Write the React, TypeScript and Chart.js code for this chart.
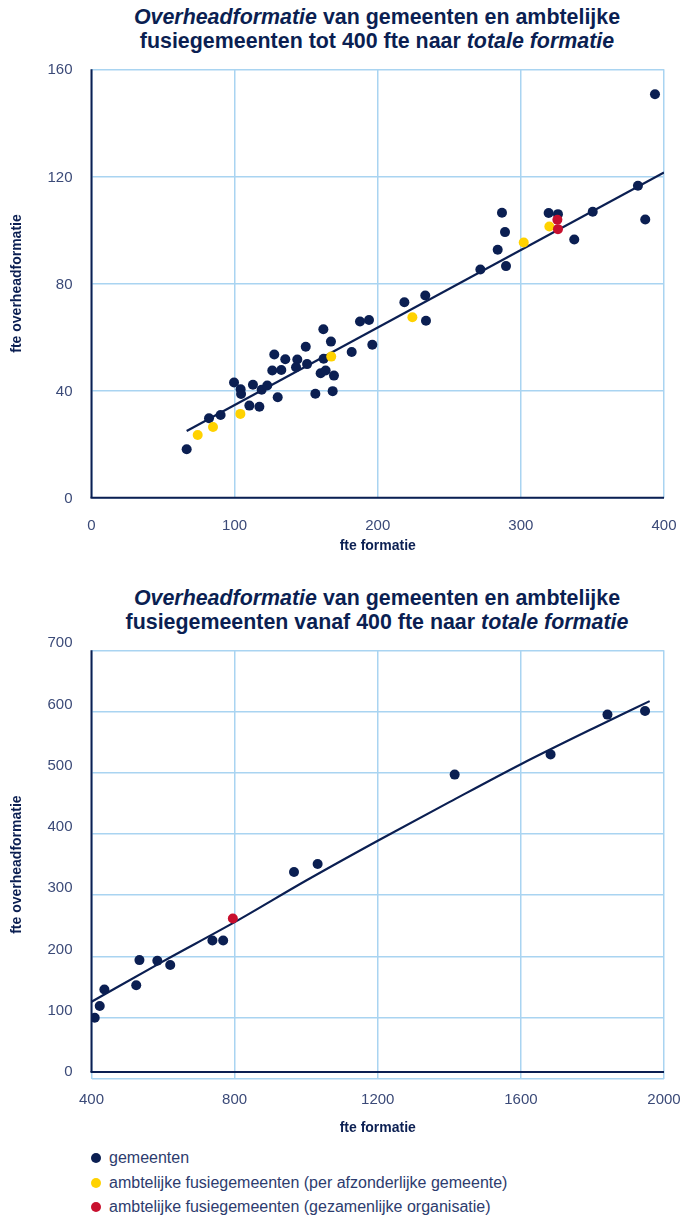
import React, { useEffect, useRef } from "react";
import { Chart, registerables } from "chart.js";

Chart.register(...registerables);

// ---------- Data: chart 1 (tot 400 fte) ----------
const gemeenten1X = [66.5, 82.1, 90.2, 99.6, 104.2, 104.5, 110.3, 117.3, 112.8, 118.9, 122.8, 130.1, 127.7, 126.3, 132.6, 135.4, 143.8, 142.9, 149.7, 150.6, 156.4, 162, 167.3, 162.2, 160.1, 163.6, 169.4, 168.5, 181.8, 187.6, 193.9, 196.2, 218.6, 233.2, 233.7, 271.7, 283.8, 286.8, 288.9, 289.6, 319.4, 325.9, 337.3, 350.2, 381.8, 386.9, 393.7];
const gemeenten1Y = [18.1, 29.7, 30.9, 43.0, 40.5, 38.7, 34.4, 34.0, 42.2, 40.3, 41.9, 37.5, 53.5, 47.5, 47.7, 51.7, 51.6, 48.7, 56.4, 49.9, 38.8, 62.9, 58.3, 51.9, 46.5, 47.5, 45.6, 39.8, 54.4, 65.8, 66.4, 57.1, 73.0, 75.5, 66.1, 85.2, 92.6, 106.4, 99.2, 86.5, 106.3, 105.9, 96.4, 106.8, 116.5, 103.9, 150.7];
const fusieApart1X = [74.2, 84.9, 104, 167.5, 224.2, 302, 319.9];
const fusieApart1Y = [23.4, 26.4, 31.3, 52.7, 67.4, 95.3, 101.3];
const fusieSamen1X = [325.5, 325.9];
const fusieSamen1Y = [103.8, 100.3];
const trend1X = [66.5, 400];
const trend1Y = [24.9, 121.5];
const xTicks1 = [0, 100, 200, 300, 400];
const yTicks1 = [0, 40, 80, 120, 160];

// ---------- Data: chart 2 (vanaf 400 fte) ----------
const gemeenten2X = [409, 423, 436, 525, 534, 584, 620, 738, 768, 966, 1032, 1415, 1683, 1842, 1947];
const gemeenten2Y = [100, 119, 146, 153, 194, 193, 186, 226, 226, 338, 351, 497, 530, 595, 601];
const fusieSamen2X = [795];
const fusieSamen2Y = [262];
const trend2X = [400, 600, 800, 1000, 1200, 1400, 1600, 1800, 1960];
const trend2Y = [126, 192, 256, 324, 389, 452, 514, 572, 617];
const xTicks2 = [400, 800, 1200, 1600, 2000];
const yTicks2 = [0, 100, 200, 300, 400, 500, 600, 700];

const legendLabels = [
  "gemeenten",
  "ambtelijke fusiegemeenten (per afzonderlijke gemeente)",
  "ambtelijke fusiegemeenten (gezamenlijke organisatie)",
];

const NAVY = "#0b1f52";
const YELLOW = "#ffd200";
const RED = "#c8102e";
const GRID = "#a9d4f1";
const TICK = "#3b4a78";
const FONT = "'Liberation Sans', Arial, sans-serif";

const pts = (xs: number[], ys: number[]) => xs.map((x, i) => ({ x, y: ys[i] }));

type Cfg = {
  series: { xs: number[]; ys: number[]; color: string; order: number }[];
  trendX: number[];
  trendY: number[];
  xTicks: number[];
  yTicks: number[];
  padTop: number;
  xHeight: number;
  xTickPad: number;
  xTitlePad: number;
  yLabelOffset: number;
  axisLineOffset: number;
  curved: boolean;
};

function makeChart(canvas: HTMLCanvasElement, c: Cfg) {
  const xStep = c.xTicks[1] - c.xTicks[0];
  const yStep = c.yTicks[1] - c.yTicks[0];
  const axisLine = {
    id: "axisLine",
    afterDatasetsDraw(chart: any) {
      const { ctx, chartArea, scales } = chart;
      const y0 = scales.y.getPixelForValue(c.yTicks[0]) - c.axisLineOffset;
      ctx.save();
      ctx.strokeStyle = NAVY;
      ctx.lineWidth = 2;
      ctx.beginPath();
      ctx.moveTo(chartArea.left - 1, y0);
      ctx.lineTo(chartArea.right, y0);
      ctx.stroke();
      ctx.beginPath();
      ctx.moveTo(chartArea.left, chartArea.top);
      ctx.lineTo(chartArea.left, y0);
      ctx.stroke();
      ctx.restore();
    },
  };
  return new Chart(canvas, {
    type: "scatter",
    data: {
      datasets: [
        ...c.series.map((s) => ({
          data: pts(s.xs, s.ys),
          backgroundColor: s.color,
          borderColor: s.color,
          pointRadius: 5,
          pointBorderWidth: 0,
          order: s.order,
        })),
        {
          type: "line" as const,
          data: pts(c.trendX, c.trendY),
          borderColor: NAVY,
          borderWidth: 2.2,
          pointRadius: 0,
          fill: false,
          cubicInterpolationMode: c.curved ? ("monotone" as const) : ("default" as const),
          tension: 0,
          order: 5,
        },
      ],
    },
    options: {
      animation: false,
      responsive: false,
      maintainAspectRatio: false,
      layout: { padding: { top: c.padTop, right: 17, left: 0, bottom: 0 } },
      plugins: { legend: { display: false }, tooltip: { enabled: false } },
      scales: {
        x: {
          type: "linear",
          min: c.xTicks[0],
          max: c.xTicks[c.xTicks.length - 1],
          afterBuildTicks: (s: any) => {
            s.ticks = c.xTicks.map((v) => ({ value: v }));
          },
          ticks: {
            stepSize: xStep,
            color: TICK,
            font: { family: FONT, size: 15 },
            padding: 0,
            maxRotation: 0,
            callback: (v: any) => String(v),
          },
          grid: { color: GRID, lineWidth: 1.5, drawTicks: true, tickLength: c.xTickPad, tickColor: "rgba(0,0,0,0)" },
          border: { display: false },
          title: {
            display: true,
            text: "fte formatie",
            color: NAVY,
            font: { family: FONT, size: 14, weight: "bold" },
            padding: { top: 0, bottom: c.xTitlePad },
          },
          afterFit: (s: any) => {
            s.height = c.xHeight;
          },
        },
        y: {
          type: "linear",
          min: c.yTicks[0],
          max: c.yTicks[c.yTicks.length - 1],
          afterBuildTicks: (s: any) => {
            s.ticks = c.yTicks.map((v) => ({ value: v }));
          },
          ticks: {
            stepSize: yStep,
            color: TICK,
            font: { family: FONT, size: 15 },
            padding: 0,
            labelOffset: c.yLabelOffset,
            callback: (v: any) => String(v),
          },
          grid: { color: GRID, lineWidth: 1.5, drawTicks: true, tickLength: 19, tickColor: "rgba(0,0,0,0)" },
          border: { display: false },
          title: {
            display: true,
            text: "fte overheadformatie",
            color: NAVY,
            font: { family: FONT, size: 14, weight: "bold" },
            padding: { top: 8.6, bottom: 0 },
          },
          afterFit: (s: any) => {
            s.width = 91.5;
          },
        },
      },
    },
    plugins: [axisLine],
  } as any);
}

const titleStyle: React.CSSProperties = {
  position: "absolute",
  left: 77,
  width: 600,
  textAlign: "center",
  fontFamily: FONT,
  fontWeight: "bold",
  fontSize: 21.4,
  lineHeight: "24px",
  color: NAVY,
  whiteSpace: "nowrap",
};

export default function App() {
  const c1 = useRef<HTMLCanvasElement>(null);
  const c2 = useRef<HTMLCanvasElement>(null);

  useEffect(() => {
    const ch1 = makeChart(c1.current!, {
      series: [
        { xs: gemeenten1X, ys: gemeenten1Y, color: NAVY, order: 2 },
        { xs: fusieApart1X, ys: fusieApart1Y, color: YELLOW, order: 1 },
        { xs: fusieSamen1X, ys: fusieSamen1Y, color: RED, order: 0 },
      ],
      trendX: trend1X,
      trendY: trend1Y,
      xTicks: xTicks1,
      yTicks: yTicks1,
      padTop: 9.3,
      xHeight: 82.3,
      xTickPad: 19,
      xTitlePad: 25.6,
      yLabelOffset: 1,
      axisLineOffset: 0,
      curved: false,
    });
    const ch2 = makeChart(c2.current!, {
      series: [
        { xs: gemeenten2X, ys: gemeenten2Y, color: NAVY, order: 2 },
        { xs: fusieSamen2X, ys: fusieSamen2Y, color: RED, order: 0 },
      ],
      trendX: trend2X,
      trendY: trend2Y,
      xTicks: xTicks2,
      yTicks: yTicks2,
      padTop: 70.3,
      xHeight: 61.1,
      xTickPad: 12,
      xTitlePad: 3.6,
      yLabelOffset: -7,
      axisLineOffset: 7,
      curved: true,
    });
    return () => {
      ch1.destroy();
      ch2.destroy();
    };
  }, []);

  return (
    <div style={{ position: "absolute", left: 0, top: 0, width: 681, height: 1216, background: "#fff", overflow: "hidden" }}>
      <div style={{ ...titleStyle, top: 5 }}>
        <div>
          <i>Overheadformatie</i> van gemeenten en ambtelijke
        </div>
        <div>
          fusiegemeenten tot 400 fte naar <i>totale formatie</i>
        </div>
      </div>
      <canvas ref={c1} width={681} height={520} style={{ position: "absolute", left: 0, top: 60, width: 681, height: 520 }} />
      <div style={{ ...titleStyle, top: 586 }}>
        <div>
          <i>Overheadformatie</i> van gemeenten en ambtelijke
        </div>
        <div>
          fusiegemeenten vanaf 400 fte naar <i>totale formatie</i>
        </div>
      </div>
      <canvas ref={c2} width={681} height={560} style={{ position: "absolute", left: 0, top: 580, width: 681, height: 560 }} />
      <div style={{ position: "absolute", left: 91, top: 1146, fontFamily: FONT, fontSize: 16, color: "#2d3c6e" }}>
        {legendLabels.map((label, i) => (
          <div key={label} style={{ display: "flex", alignItems: "center", height: 24.5 }}>
            <span
              style={{
                display: "inline-block",
                width: 10,
                height: 10,
                borderRadius: 5,
                background: [NAVY, YELLOW, RED][i],
                marginRight: 8,
              }}
            />
            <span>{label}</span>
          </div>
        ))}
      </div>
    </div>
  );
}
